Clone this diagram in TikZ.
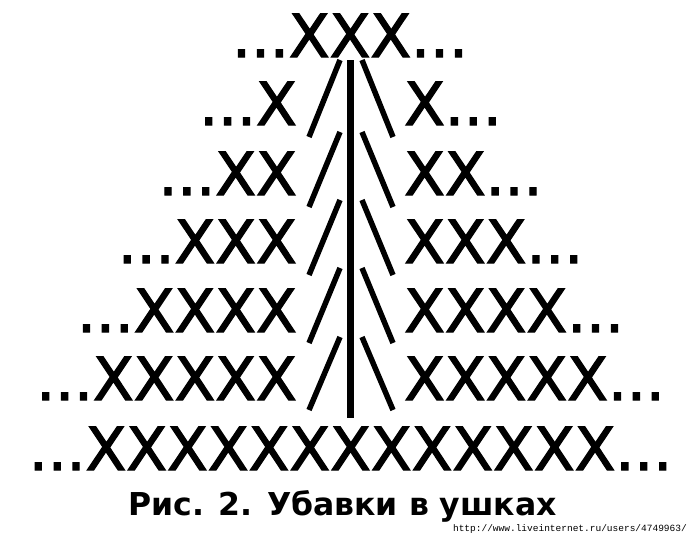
\documentclass[tikz,border=0pt]{standalone}
\usepackage{fontspec}
\setmainfont{DejaVu Sans}
\setmonofont{Liberation Mono}
\newfontfamily\stitchfont[FakeBold=2]{DejaVu Sans}

\begin{document}
\begin{tikzpicture}[x=1pt, y=-1pt]
\tikzstyle{row}=[inner sep=0pt, text=black, font=\stitchfont\fontsize{59.5}{60}\selectfont]
\tikzstyle{lrow}=[row, anchor=base east]
\tikzstyle{rrow}=[row, anchor=base west]
\tikzstyle{stick}=[line width=5.5pt, black]
\useasboundingbox (0,0) rectangle (700,538);
% rows of stitches
\node[row, anchor=base] (R1)  at (350,57)  {...XXX...};
\node[lrow]             (L2)  at (297,125) {...X};
\node[rrow]             (P2)  at (404,125) {X...};
\node[lrow]             (L3)  at (297,195) {...XX};
\node[rrow]             (P3)  at (404,195) {XX...};
\node[lrow]             (L4)  at (297,263) {...XXX};
\node[rrow]             (P4)  at (404,263) {XXX...};
\node[lrow]             (L5)  at (297,332) {...XXXX};
\node[rrow]             (P5)  at (404,332) {XXXX...};
\node[lrow]             (L6)  at (297,400) {...XXXXX};
\node[rrow]             (P6)  at (404,400) {XXXXX...};
\node[row, anchor=base] (R7)  at (350.5,470) {...XXXXXXXXXXXXX...};
% stem and decreases
\draw[stick, line width=7pt] (350.5,60) -- (350.5,418);
\foreach \t/\b in {60/137, 132/207, 200/275, 268/343, 337/410}
{
  \draw[stick] (340,\t) -- (309,\b);
  \draw[stick] (362,\t) -- (393,\b);
}
% caption
\node[anchor=base, inner sep=0pt, font=\bfseries\fontsize{31.5}{32}\selectfont] (cap) at (342.5,515) {Рис. 2. Убавки в ушках};
\node[anchor=base east, inner sep=0pt, font=\ttfamily\fontsize{9.5}{10}\selectfont] (url) at (687,531) {http://www.liveinternet.ru/users/4749963/};
\end{tikzpicture}
\end{document}
